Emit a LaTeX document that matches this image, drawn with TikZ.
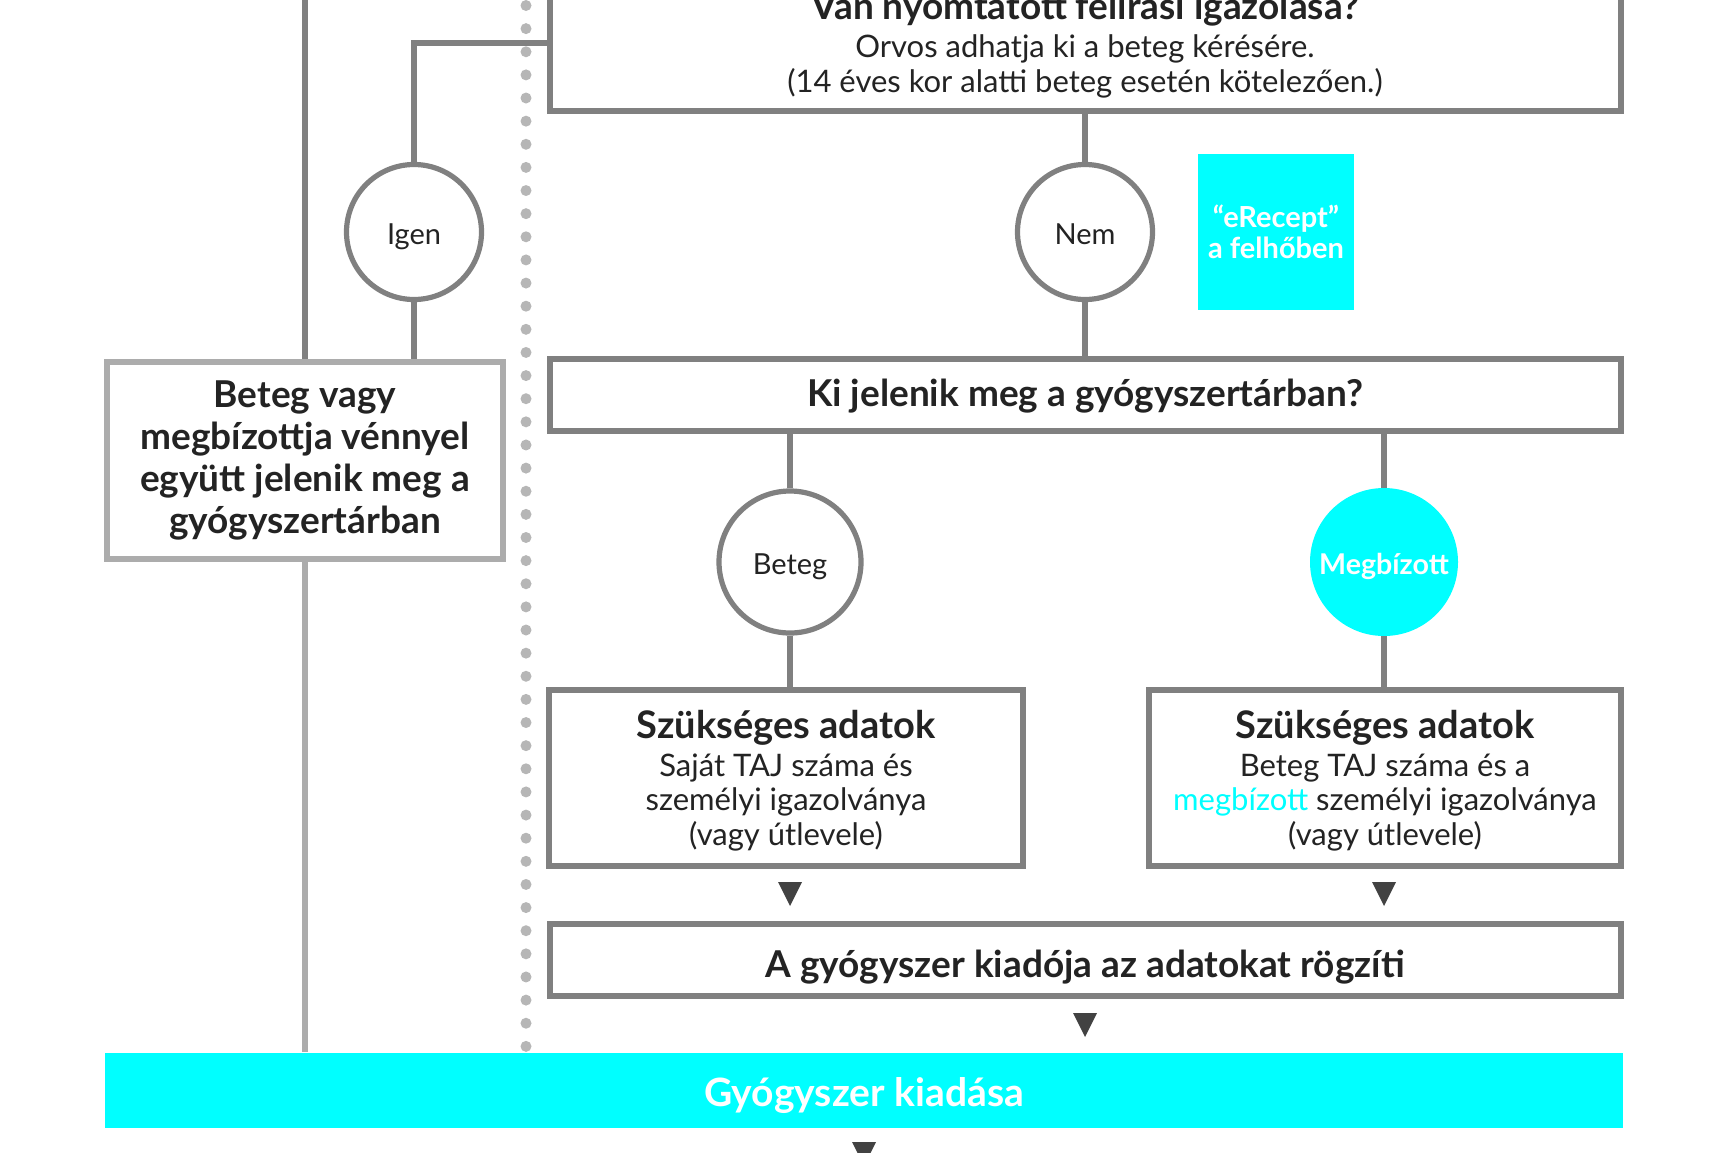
\documentclass[tikz,border=0pt]{standalone}
\usepackage{fontspec}
\setmainfont{Lato}
\usepackage{xcolor}
\usepackage{tikz}
\usetikzlibrary{positioning}

\definecolor{lineGray}{RGB}{128,128,128}
\definecolor{softGray}{RGB}{172,172,172}
\definecolor{dotGray}{RGB}{182,182,182}
\definecolor{tipGray}{RGB}{66,66,66}
\definecolor{inkGray}{RGB}{35,35,35}
\definecolor{eCyan}{RGB}{0,255,255}

\tikzset{
 qbox/.style={draw=lineGray, line width=3pt, fill=white, text=inkGray, align=center, inner sep=0pt},
 choice/.style={circle, draw=lineGray, line width=2.6pt, fill=white, text=inkGray, inner sep=0pt, text height=12pt, text depth=0pt, font=\fontsize{14.5}{17}\selectfont},
 link/.style={lineGray, line width=2.6pt},
 headtext/.style={font=\fontsize{18.5}{21}\selectfont\bfseries},
 notetext/.style={font=\fontsize{15.5}{17.4}\selectfont},
}

\begin{document}
\begin{tikzpicture}[x=0.5pt, y=-0.5pt]
\def\px{0.5pt}
\useasboundingbox (0,0) rectangle (1728,1152);

%left column
\node[qbox, draw=softGray, headtext, minimum width=396*\px, minimum height=197*\px] (carry) at (305,460)
 {Beteg vagy\\megbízottja vénnyel\\együtt jelenik meg a\\gyógyszertárban};
\coordinate (leftTop) at (305,0);
\draw[link] (leftTop) -- (carry.north);

%dots
\foreach \i in {0,1,...,45} \fill[dotGray] (526,5.5+23.13*\i) circle (5.5);

%printed prescription
\node[qbox, notetext, minimum width=1071*\px, minimum height=132*\px] (printed) at (1085,45)
 {{\fontsize{18.5}{21}\selectfont\bfseries Van nyomtatott felírási igazolása?}\\[2pt]
  Orvos adhatja ki a beteg kérésére.\\
  (14 éves kor alatti beteg esetén kötelezően.)};

\node[choice, minimum size=135*\px] (igen) at (414,232) {Igen};
\node[choice, minimum size=135*\px] (nem) at (1085,232) {Nem};
\node[fill=eCyan, minimum size=156*\px, inner sep=0pt, align=center, text=white, font=\fontsize{14.5}{15.5}\selectfont\bfseries] (cloud) at (1276,232) {“eRecept”\\a felhőben};
\draw[link] (igen.north) |- ([yshift=1pt]printed.west);
\draw[link] (igen.south) -- (igen |- carry.north);
\draw[link] (printed.south) -- (nem.north);

%who comes
\node[qbox, headtext, text height=12pt, text depth=0.4pt, minimum width=1071*\px, minimum height=72*\px] (who) at (1085,395) {Ki jelenik meg a gyógyszertárban?};
\draw[link] (nem.south) -- (who.north);

\node[choice, minimum size=142*\px] (beteg) at (790,562) {Beteg};
\node[circle, fill=eCyan, minimum size=148*\px, inner sep=0pt, text=white, text height=12pt, text depth=0pt, font=\fontsize{14.3}{15}\selectfont\bfseries] (megb) at (1384,562) {Megbízott};
\draw[link] (who.south -| beteg) -- (beteg.north);
\draw[link] (who.south -| megb) -- (megb.north);

%required data
\node[qbox, notetext, text depth=-2.2pt, minimum width=474*\px, minimum height=176*\px] (selfdata) at (786,778)
 {{\fontsize{19}{21}\selectfont\bfseries Szükséges adatok}\\[1.3pt]Saját TAJ száma és\\személyi igazolványa\\(vagy útlevele)};
\node[qbox, notetext, text depth=-2.2pt, minimum width=472*\px, minimum height=176*\px] (proxydata) at (1385,778)
 {{\fontsize{19}{21}\selectfont\bfseries Szükséges adatok}\\[1.3pt]Beteg TAJ száma és a\\\textcolor{eCyan}{megbízott} személyi igazolványa\\(vagy útlevele)};
\draw[link] (beteg.south) -- (beteg |- selfdata.north);
\draw[link] (megb.south) -- (megb |- proxydata.north);

%record
\node[qbox, headtext, text height=17.4pt, text depth=0pt, minimum width=1071*\px, minimum height=72*\px] (record) at (1085,960) {A gyógyszer kiadója az adatokat rögzíti};

%issue
\node[fill=eCyan, minimum width=1518*\px, minimum height=75*\px, inner sep=0pt, text=white, text height=17pt, text depth=0.3pt, font=\fontsize{19.5}{20}\selectfont\bfseries] (issue) at (864,1090) {Gyógyszer kiadása};
\draw[link, softGray] (carry.south) -- (carry.south |- issue.north);

%arrow tips
\foreach \x/\y in {790/894,1384/894,1085/1025,864/1154}
 \fill[tipGray] (\x-12,\y-12) -- ++(24,0) -- (\x,\y+12) -- cycle;

\end{tikzpicture}
\end{document}
